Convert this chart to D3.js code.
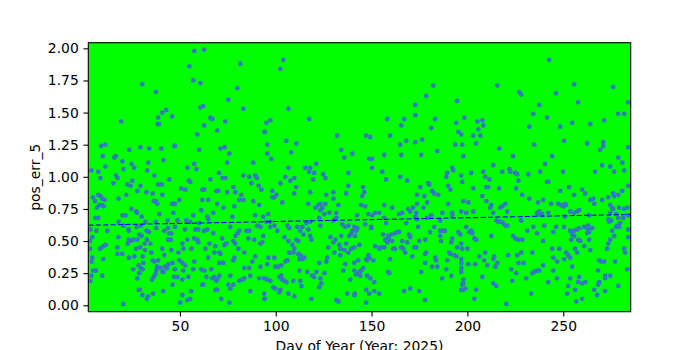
<!DOCTYPE html>
<html>
<head>
<meta charset="utf-8">
<script src="https://cdn.jsdelivr.net/npm/d3@7/dist/d3.min.js"></script>
<style>
  html, body { margin: 0; padding: 0; background: #ffffff; }
  svg { display: block; }
  text { font-family: "DejaVu Sans", sans-serif; }
</style>
</head>
<body>
<svg id="chart" width="700" height="350"></svg>
<script>
// ---- data ----
const xDomain = [2.2, 285.2];
const yDomain = [-0.05, 2.044];
const xTicks = [50, 100, 150, 200, 250];
const yTicks = [0.00, 0.25, 0.50, 0.75, 1.00, 1.25, 1.50, 1.75, 2.00];
const xLabel = "Day of Year (Year: 2025)";
const yLabel = "pos_err_5";
const trendDays = [2.2, 285.2];
const trendValues = [0.623, 0.707];

// [day of year, pos_err_5]
const samplesA = [
[30.4,1.72],[37.5,1.66],[42.9,1.52],[40.8,1.50],[38.7,1.46],[46.0,1.47],[38.4,1.41],[39.1,1.41],[19.4,1.43],[9.0,1.24],[11.1,1.25],[9.7,1.16],[23.6,1.21],[29.4,1.23],[34.0,1.22],[40.3,1.22],[47.1,1.24],[16.5,1.16],[15.8,1.15],[20.0,1.12],[24.8,1.10],[26.2,1.07],[33.5,1.11],[41.4,1.13],[11.1,1.08],[33.0,1.05],[20.5,1.06],[3.8,1.05],[7.4,1.04],[8.5,0.99],[16.7,1.01],[17.4,0.99],[36.7,1.01],[44.5,0.98],[15.3,0.95],[22.6,0.94],[24.3,0.93],[25.2,0.97],[29.4,0.93],[38.6,0.94],[40.5,0.94],[27.8,0.89],[32.5,0.88],[35.8,0.87],[40.8,0.86],[22.0,0.86],[4.7,0.84],[7.4,0.86],[8.5,0.85],[9.5,0.83],[5.7,0.81],[10.7,0.82],[18.0,0.83],[36.3,0.81],[37.4,0.81],[38.2,0.79],[46.0,0.79],[46.7,0.79],[8.1,0.78],[9.2,0.78],[10.2,0.77],[6.7,0.76],[24.7,0.75],[27.3,0.73],[27.6,0.72],[20.1,0.70],[21.7,0.70],[30.0,0.69],[39.3,0.71],[46.6,0.72],[5.9,0.68],[7.4,0.68],[18.0,0.65],[32.0,0.65],[37.4,0.65],[43.6,0.66],[20.5,0.62],[23.1,0.59],[23.3,0.58],[27.4,0.61],[29.7,0.62],[32.7,0.58],[33.9,0.57],[37.7,0.60],[41.9,0.58],[43.8,0.60],[44.5,0.56],[3.3,0.59],[6.4,0.58],[12.1,0.58],[17.9,0.53],[32.8,0.51],[28.8,0.55],[29.9,0.54],[4.3,0.53],[2.9,0.50],[23.3,0.51],[24.3,0.50],[25.7,0.51],[27.8,0.51],[22.7,0.48],[31.6,0.48],[34.6,0.48],[43.8,0.51],[45.3,0.51],[45.5,0.56],[3.1,0.44],[8.3,0.44],[9.2,0.45],[10.2,0.46],[11.3,0.47],[17.4,0.45],[27.1,0.44],[29.2,0.45],[31.8,0.43],[40.8,0.44],[45.5,0.43],[17.4,0.40],[20.0,0.40],[35.1,0.41],[26.2,0.38],[23.4,0.37],[30.6,0.38],[4.3,0.37],[4.0,0.34],[10.0,0.36],[28.5,0.31],[30.9,0.33],[35.8,0.35],[36.7,0.34],[38.6,0.35],[41.9,0.39],[46.2,0.33],[44.0,0.32],[6.2,0.27],[4.8,0.27],[3.8,0.23],[9.5,0.23],[25.7,0.28],[29.5,0.29],[30.6,0.28],[28.8,0.25],[38.0,0.30],[39.8,0.29],[37.7,0.27],[42.2,0.30],[41.0,0.26],[43.3,0.29],[37.2,0.24],[35.4,0.20],[36.3,0.22],[27.8,0.21],[41.5,0.26],[46.9,0.22],[46.2,0.16],[28.5,0.12],[29.2,0.12],[30.4,0.08],[32.8,0.05],[33.4,0.07],[36.0,0.09],[41.3,0.11],[3.3,0.19],[20.5,0.01]
];
const samplesB = [
[57.5,1.98],[62.7,1.99],[54.9,1.86],[81.5,1.88],[57.0,1.75],[60.7,1.73],[80.0,1.69],[75.3,1.60],[60.7,1.54],[62.1,1.55],[83.1,1.53],[65.9,1.46],[66.9,1.45],[73.7,1.43],[62.7,1.40],[69.5,1.36],[94.0,1.35],[59.1,1.33],[47.4,1.24],[60.1,1.21],[71.1,1.22],[73.3,1.23],[75.8,1.18],[74.7,1.11],[88.3,1.11],[53.9,1.07],[57.5,1.10],[58.6,1.06],[70.4,1.03],[72.3,0.99],[73.7,0.99],[65.9,0.98],[83.1,1.01],[86.2,1.00],[89.3,1.01],[90.2,0.99],[87.3,0.95],[91.1,0.93],[92.5,0.90],[54.7,0.97],[55.4,0.96],[50.7,0.91],[52.8,0.90],[61.7,0.90],[62.7,0.90],[77.9,0.92],[78.9,0.88],[82.0,0.86],[69.0,0.89],[70.0,0.89],[74.7,0.88],[49.7,0.82],[61.7,0.82],[64.8,0.82],[81.0,0.82],[83.1,0.82],[88.3,0.81],[69.5,0.79],[78.4,0.77],[72.7,0.76],[91.4,0.78],[47.4,0.79],[61.2,0.74],[67.4,0.72],[77.4,0.69],[89.3,0.70],[93.5,0.69],[64.3,0.69],[64.8,0.67],[57.0,0.70],[48.7,0.66],[53.3,0.66],[55.4,0.65],[60.1,0.64],[47.4,0.61],[52.7,0.59],[58.0,0.59],[59.6,0.59],[62.7,0.58],[64.3,0.59],[67.4,0.56],[81.0,0.58],[80.0,0.56],[78.9,0.54],[84.7,0.58],[86.2,0.58],[93.5,0.54],[90.4,0.62],[92.0,0.61],[76.3,0.61],[72.1,0.52],[57.5,0.52],[59.1,0.51],[53.9,0.51],[51.3,0.48],[59.6,0.49],[65.4,0.48],[68.5,0.46],[73.2,0.47],[74.2,0.48],[77.9,0.50],[78.9,0.48],[85.7,0.52],[88.8,0.51],[92.0,0.48],[93.0,0.49],[51.8,0.44],[56.0,0.44],[63.3,0.44],[68.0,0.41],[70.6,0.41],[71.1,0.40],[80.5,0.44],[83.6,0.41],[49.2,0.41],[64.8,0.37],[78.4,0.37],[89.3,0.38],[87.8,0.34],[57.5,0.34],[49.7,0.35],[51.3,0.33],[52.8,0.31],[70.6,0.33],[72.7,0.33],[77.9,0.35],[92.0,0.30],[47.4,0.28],[51.8,0.27],[57.0,0.28],[61.2,0.28],[62.7,0.27],[66.4,0.28],[83.6,0.29],[86.2,0.29],[48.7,0.22],[51.3,0.20],[54.4,0.22],[63.8,0.22],[66.9,0.21],[69.5,0.20],[68.0,0.22],[69.0,0.19],[70.6,0.23],[76.3,0.23],[81.0,0.19],[82.6,0.20],[83.6,0.21],[86.7,0.23],[91.4,0.21],[94.0,0.21],[61.7,0.16],[62.2,0.16],[68.5,0.12],[69.5,0.12],[75.3,0.16],[77.9,0.16],[76.3,0.13],[55.9,0.11],[86.7,0.11],[94.0,0.09],[51.3,0.08],[53.9,0.04],[55.4,0.05],[71.6,0.05],[94.0,0.05],[50.2,0.02],[75.8,0.02]
];
const samplesC = [
[104.0,1.91],[102.4,1.84],[106.6,1.53],[117.5,1.45],[97.2,1.44],[95.1,1.42],[132.1,1.32],[94.4,1.35],[105.5,1.28],[110.7,1.26],[95.6,1.25],[134.2,1.21],[108.1,1.19],[95.6,1.18],[135.8,1.15],[140.0,1.18],[97.7,1.14],[106.6,1.07],[115.4,1.07],[118.0,1.07],[121.2,1.10],[117.5,1.04],[120.1,1.03],[124.8,1.02],[125.9,0.99],[119.6,0.98],[137.9,1.03],[105.0,1.00],[107.6,0.97],[109.7,0.99],[102.4,0.95],[110.7,0.92],[137.9,0.93],[98.2,0.89],[100.3,0.86],[99.3,0.84],[98.2,0.84],[109.7,0.87],[118.0,0.88],[126.4,0.86],[130.1,0.88],[130.1,0.83],[136.8,0.87],[103.4,0.80],[117.0,0.79],[132.7,0.78],[122.2,0.78],[123.3,0.79],[120.7,0.76],[124.3,0.76],[125.9,0.79],[123.3,0.74],[128.0,0.72],[125.4,0.71],[131.6,0.72],[96.1,0.71],[97.2,0.65],[130.1,0.66],[131.6,0.68],[122.7,0.68],[118.0,0.65],[123.3,0.62],[116.0,0.64],[134.7,0.63],[136.3,0.61],[137.9,0.62],[141.0,0.61],[95.1,0.65],[99.3,0.62],[97.2,0.61],[106.1,0.62],[107.1,0.60],[111.3,0.61],[113.9,0.61],[117.0,0.59],[100.8,0.58],[112.8,0.58],[114.4,0.55],[118.0,0.54],[118.6,0.51],[104.5,0.53],[106.6,0.50],[110.7,0.51],[108.7,0.47],[111.8,0.50],[109.7,0.44],[128.5,0.53],[131.1,0.51],[130.1,0.49],[134.2,0.54],[140.0,0.58],[139.4,0.56],[138.4,0.54],[136.8,0.48],[133.2,0.47],[133.7,0.44],[135.8,0.43],[127.4,0.45],[139.4,0.44],[141.0,0.45],[137.9,0.41],[130.6,0.41],[133.7,0.39],[107.1,0.41],[109.2,0.41],[111.8,0.40],[112.8,0.39],[112.3,0.36],[113.9,0.36],[114.9,0.37],[96.1,0.37],[99.3,0.37],[106.1,0.35],[105.0,0.34],[102.9,0.31],[126.9,0.37],[126.4,0.34],[122.7,0.33],[136.3,0.32],[141.0,0.33],[95.6,0.32],[99.8,0.30],[101.4,0.30],[112.3,0.27],[116.5,0.26],[121.2,0.26],[125.4,0.25],[119.1,0.23],[120.1,0.22],[135.3,0.27],[141.0,0.27],[138.9,0.20],[102.9,0.23],[101.9,0.22],[103.4,0.20],[104.5,0.19],[105.5,0.18],[95.6,0.20],[97.2,0.19],[109.2,0.19],[112.8,0.19],[123.3,0.21],[123.8,0.17],[122.7,0.14],[98.7,0.14],[99.8,0.13],[102.4,0.12],[101.9,0.10],[106.6,0.09],[109.7,0.07],[113.4,0.15],[118.6,0.05],[131.6,0.04],[132.7,0.03],[137.4,0.09],[141.0,0.08],[94.4,0.05]
];
const samplesD = [
[182.2,1.71],[178.5,1.63],[172.8,1.56],[172.8,1.48],[158.2,1.45],[167.0,1.45],[183.2,1.45],[165.5,1.40],[181.1,1.38],[147.2,1.32],[149.3,1.31],[159.7,1.32],[168.1,1.28],[164.9,1.25],[172.8,1.27],[176.4,1.29],[156.6,1.17],[165.5,1.17],[175.9,1.17],[184.3,1.20],[148.8,1.14],[150.3,1.14],[150.3,1.07],[155.6,1.04],[157.6,0.98],[164.9,1.00],[168.6,0.97],[145.6,0.92],[146.2,0.88],[145.1,0.85],[179.6,0.95],[180.1,0.94],[175.4,0.92],[181.6,0.89],[182.7,0.87],[184.8,0.86],[173.8,0.86],[177.5,0.85],[179.0,0.80],[144.6,0.78],[146.7,0.77],[156.6,0.78],[160.8,0.76],[173.8,0.79],[171.7,0.76],[169.1,0.75],[177.0,0.76],[151.9,0.72],[154.0,0.72],[148.3,0.71],[150.3,0.70],[142.5,0.70],[164.4,0.71],[166.0,0.72],[170.2,0.73],[173.3,0.72],[172.8,0.69],[181.1,0.70],[186.9,0.72],[156.6,0.68],[157.6,0.64],[168.1,0.64],[173.8,0.67],[179.0,0.68],[185.8,0.66],[146.7,0.63],[149.8,0.61],[149.8,0.60],[142.5,0.60],[142.0,0.58],[141.3,0.54],[156.1,0.55],[158.7,0.54],[160.3,0.55],[162.3,0.56],[163.4,0.57],[164.4,0.57],[169.6,0.55],[170.2,0.53],[174.3,0.61],[180.6,0.57],[182.7,0.61],[185.8,0.58],[187.4,0.58],[185.8,0.54],[186.3,0.50],[159.2,0.51],[160.8,0.50],[157.1,0.51],[158.2,0.49],[166.0,0.50],[168.6,0.49],[174.9,0.50],[178.0,0.51],[143.6,0.47],[151.9,0.46],[154.5,0.45],[154.0,0.44],[156.6,0.45],[161.3,0.44],[162.3,0.44],[165.5,0.45],[166.5,0.44],[167.6,0.41],[172.3,0.45],[173.3,0.45],[178.5,0.41],[178.0,0.40],[148.3,0.39],[148.8,0.37],[171.2,0.38],[183.2,0.37],[183.7,0.35],[147.2,0.36],[147.7,0.35],[150.9,0.35],[143.0,0.35],[159.7,0.36],[178.0,0.33],[181.6,0.30],[184.3,0.30],[145.6,0.29],[144.6,0.27],[143.6,0.26],[142.0,0.24],[144.1,0.23],[158.7,0.26],[159.2,0.25],[175.9,0.26],[147.7,0.23],[149.3,0.21],[186.9,0.21],[151.4,0.18],[141.3,0.09],[147.2,0.12],[148.8,0.09],[151.4,0.11],[154.0,0.09],[167.0,0.11],[170.2,0.13],[174.9,0.11],[147.2,0.02],[178.0,0.04]
];
const samplesE = [
[215.6,1.71],[227.1,1.66],[228.1,1.64],[194.7,1.59],[234.4,1.49],[198.4,1.46],[194.2,1.42],[205.2,1.43],[207.8,1.44],[208.3,1.40],[205.7,1.37],[195.3,1.35],[196.8,1.33],[203.1,1.32],[206.7,1.32],[232.3,1.39],[193.7,1.25],[197.3,1.25],[204.6,1.26],[234.9,1.25],[216.6,1.22],[197.9,1.16],[223.9,1.16],[213.5,1.09],[192.1,1.07],[192.6,1.05],[189.5,1.03],[189.0,1.00],[196.8,1.01],[202.0,1.03],[208.3,1.04],[209.3,1.00],[211.4,0.98],[218.2,1.04],[221.9,1.06],[222.4,1.04],[225.0,1.03],[226.0,1.02],[231.8,1.02],[197.3,0.96],[226.6,0.97],[190.0,0.93],[191.1,0.90],[203.1,0.91],[209.9,0.92],[210.9,0.92],[216.6,0.91],[225.5,0.91],[228.6,0.86],[232.3,0.83],[207.8,0.85],[209.9,0.81],[190.0,0.79],[197.9,0.81],[200.5,0.80],[212.5,0.78],[211.9,0.76],[218.2,0.77],[219.8,0.79],[217.2,0.76],[220.8,0.73],[203.1,0.73],[213.5,0.72],[196.8,0.73],[199.4,0.72],[192.1,0.72],[192.1,0.70],[228.1,0.66],[215.1,0.66],[216.1,0.65],[217.2,0.65],[218.7,0.64],[219.8,0.62],[220.8,0.62],[199.4,0.61],[188.3,0.58],[195.3,0.57],[196.3,0.55],[201.0,0.57],[202.0,0.58],[202.6,0.56],[204.6,0.51],[203.6,0.52],[212.5,0.54],[223.9,0.54],[225.0,0.52],[226.6,0.51],[228.6,0.51],[231.3,0.58],[234.4,0.61],[192.1,0.52],[191.6,0.49],[194.7,0.45],[196.8,0.48],[197.3,0.44],[200.0,0.44],[209.3,0.41],[206.2,0.38],[214.0,0.38],[213.5,0.36],[215.6,0.33],[221.3,0.39],[226.0,0.39],[228.1,0.41],[233.9,0.41],[190.6,0.41],[193.2,0.39],[194.2,0.38],[191.1,0.40],[189.5,0.35],[196.8,0.36],[196.8,0.33],[196.8,0.29],[196.8,0.26],[200.5,0.32],[204.1,0.32],[208.8,0.35],[210.4,0.31],[214.6,0.30],[229.2,0.33],[226.6,0.33],[189.0,0.28],[222.9,0.28],[225.5,0.25],[233.9,0.25],[234.9,0.26],[191.6,0.23],[207.8,0.22],[230.7,0.21],[223.4,0.19],[197.9,0.20],[197.9,0.17],[197.3,0.16],[197.9,0.12],[198.9,0.13],[196.8,0.12],[213.5,0.17],[215.1,0.15],[204.6,0.12],[203.6,0.05],[233.3,0.09],[220.3,0.01]
];
const samplesF = [
[242.7,1.91],[255.7,1.72],[246.3,1.65],[276.1,1.70],[257.8,1.58],[237.5,1.56],[283.9,1.58],[241.6,1.46],[254.7,1.42],[248.4,1.39],[264.1,1.41],[271.4,1.44],[278.7,1.49],[281.8,1.49],[250.5,1.28],[262.5,1.26],[270.9,1.27],[270.9,1.24],[269.3,1.21],[283.9,1.23],[244.2,1.16],[278.7,1.15],[240.6,1.10],[238.0,1.04],[280.8,1.11],[274.5,1.08],[276.6,1.04],[281.8,1.05],[270.3,1.09],[250.0,1.04],[266.7,1.04],[241.6,0.96],[242.2,0.96],[248.4,0.89],[253.1,0.92],[255.7,0.86],[259.9,0.90],[261.5,0.87],[276.1,0.87],[276.6,0.85],[273.5,0.84],[280.8,0.89],[278.7,0.86],[283.9,0.93],[264.1,0.82],[265.6,0.83],[266.2,0.79],[270.3,0.82],[236.9,0.80],[239.5,0.82],[243.7,0.79],[247.4,0.79],[248.9,0.78],[250.0,0.77],[251.0,0.79],[251.5,0.78],[253.6,0.73],[255.7,0.72],[257.3,0.73],[258.3,0.74],[274.5,0.78],[275.5,0.76],[279.2,0.76],[281.8,0.75],[283.4,0.76],[276.1,0.75],[237.5,0.73],[236.4,0.72],[236.9,0.71],[242.2,0.72],[239.0,0.71],[263.5,0.70],[251.0,0.69],[274.5,0.72],[277.6,0.71],[283.9,0.70],[273.5,0.67],[274.0,0.65],[275.0,0.66],[278.7,0.68],[281.3,0.68],[279.7,0.64],[278.2,0.62],[277.6,0.61],[279.2,0.61],[240.1,0.62],[246.3,0.61],[250.5,0.61],[253.6,0.58],[255.7,0.58],[257.3,0.59],[258.3,0.60],[260.9,0.61],[263.0,0.62],[263.0,0.59],[265.1,0.60],[262.5,0.56],[263.5,0.57],[236.4,0.56],[244.8,0.57],[254.7,0.55],[255.7,0.54],[254.2,0.51],[257.8,0.51],[258.9,0.50],[263.5,0.51],[275.5,0.58],[276.6,0.54],[274.5,0.51],[273.5,0.48],[272.9,0.44],[283.9,0.59],[283.9,0.53],[239.5,0.50],[260.9,0.46],[264.1,0.43],[244.2,0.44],[247.9,0.44],[256.2,0.44],[257.3,0.41],[251.5,0.41],[252.6,0.39],[250.5,0.36],[244.8,0.37],[246.8,0.34],[253.6,0.37],[268.8,0.35],[269.8,0.34],[271.4,0.34],[277.1,0.34],[281.8,0.44],[282.3,0.41],[283.4,0.28],[237.5,0.27],[236.4,0.27],[239.5,0.31],[244.8,0.27],[254.7,0.30],[268.2,0.27],[271.9,0.23],[271.9,0.21],[274.5,0.23],[258.3,0.22],[242.2,0.18],[246.8,0.21],[253.6,0.21],[257.8,0.18],[259.9,0.17],[261.5,0.18],[268.8,0.18],[268.2,0.16],[266.2,0.12],[278.7,0.15],[252.6,0.15],[252.1,0.09],[256.2,0.12],[267.7,0.08],[271.9,0.11],[259.9,0.05],[256.8,0.03]
];

// ---- layout ----
const svg = d3.select("#chart");
const plot = { left: 88.3, right: 630.7, top: 42.7, bottom: 311.7 };

const x = d3.scaleLinear().domain(xDomain).range([plot.left, plot.right]);
const y = d3.scaleLinear().domain(yDomain).range([plot.bottom, plot.top]);

svg.append("rect").attr("x", 0).attr("y", 0).attr("width", 700).attr("height", 350).attr("fill", "#ffffff");

svg.append("defs").append("clipPath").attr("id", "clip")
  .append("rect")
  .attr("x", plot.left).attr("y", plot.top)
  .attr("width", plot.right - plot.left).attr("height", plot.bottom - plot.top);

svg.append("rect")
  .attr("x", plot.left).attr("y", plot.top)
  .attr("width", plot.right - plot.left).attr("height", plot.bottom - plot.top)
  .attr("fill", "#00ff00");

const samples = [].concat(samplesA, samplesB, samplesC, samplesD, samplesE, samplesF);

const g = svg.append("g").attr("clip-path", "url(#clip)");
g.selectAll("circle.pt").data(samples).enter().append("circle")
  .attr("class", "pt")
  .attr("cx", d => x(d[0]))
  .attr("cy", d => y(d[1]))
  .attr("r", 2.4)
  .attr("fill", "#3279bf");

const trend = trendDays.map((d, i) => [d, trendValues[i]]);
g.append("path")
  .datum(trend)
  .attr("d", d3.line().x(d => x(d[0])).y(d => y(d[1])))
  .attr("fill", "none")
  .attr("stroke", "#0000ff")
  .attr("stroke-width", 1.1)
  .attr("stroke-dasharray", "5.2,2.2");

// axes
const fontSize = 13.9;
const xAxis = d3.axisBottom(x).tickValues(xTicks).tickSize(4.9).tickPadding(4.6).tickFormat(d3.format("d"));
const yAxis = d3.axisLeft(y).tickValues(yTicks).tickSize(4.9).tickPadding(4.6).tickFormat(d3.format(".2f"));

const gx = svg.append("g").attr("transform", `translate(0,${plot.bottom})`).call(xAxis);
const gy = svg.append("g").attr("transform", `translate(${plot.left},0)`).call(yAxis);
[gx, gy].forEach(a => {
  a.select(".domain").remove();
  a.selectAll(".tick line").attr("stroke", "#000").attr("stroke-width", 1.1);
  a.selectAll(".tick text").attr("fill", "#000").style("font-size", fontSize + "px").style("font-family", "DejaVu Sans");
});

// frame
svg.append("rect")
  .attr("x", plot.left).attr("y", plot.top)
  .attr("width", plot.right - plot.left).attr("height", plot.bottom - plot.top)
  .attr("fill", "none").attr("stroke", "#000").attr("stroke-width", 1.1);

svg.append("text")
  .attr("x", (plot.left + plot.right) / 2).attr("y", 351)
  .attr("text-anchor", "middle")
  .style("font-size", fontSize + "px")
  .text(xLabel);

svg.append("text")
  .attr("transform", `translate(39.5,${(plot.top + plot.bottom) / 2}) rotate(-90)`)
  .attr("text-anchor", "middle")
  .style("font-size", fontSize + "px")
  .text(yLabel);
</script>
</body>
</html>
